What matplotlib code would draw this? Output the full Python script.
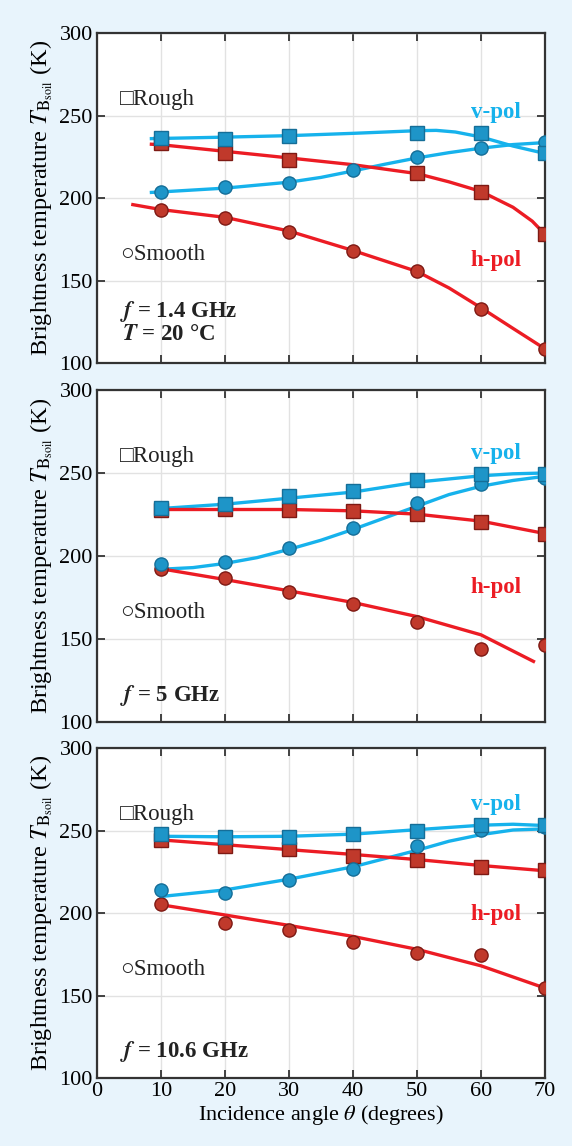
"""
Brightness temperature of rough vs smooth soil at three frequencies,
v-pol (cyan) and h-pol (red), measured points plus model curves.
"""
import matplotlib
matplotlib.use("Agg")
import matplotlib.pyplot as plt
import numpy as np

plt.rcParams["font.family"] = ["Liberation Serif", "DejaVu Serif"]
plt.rcParams["mathtext.fontset"] = "stix"

ANGLES = [10, 20, 30, 40, 50, 60, 70]
FREQ_LABELS = [r"$\mathbfit{f}$ = 1.4 GHz", r"$\mathbfit{f}$ = 5 GHz", r"$\mathbfit{f}$ = 10.6 GHz"]

# measured points (nan = no point)
V_ROUGH = [
    [236.1, 236.0, 237.5, np.nan, 239.6, 239.2, 227.1],
    [228.9, 231.5, 235.9, 238.9, 245.6, 249.6, 249.6],
    [247.6, 246.2, 246.2, 248.0, 250.0, 253.6, 253.6],
]
V_SMOOTH = [
    [203.6, 206.4, 209.4, 216.7, 224.7, 230.5, 233.9],
    [195.0, 196.4, 204.8, 216.9, 231.9, 243.2, 247.2],
    [213.9, 212.4, 219.9, 226.9, 240.6, 250.6, 252.0],
]
H_ROUGH = [
    [233.1, 227.5, 223.1, np.nan, 215.1, 203.4, 178.3],
    [227.5, 228.5, 227.5, 227.1, 225.1, 220.7, 213.1],
    [244.2, 240.6, 238.6, 234.5, 232.1, 227.9, 225.9],
]
H_SMOOTH = [
    [192.8, 188.2, 179.7, 167.9, 155.6, 132.5, 108.6],
    [192.4, 186.7, 178.1, 171.1, 160.2, 144.2, 146.2],
    [205.4, 194.0, 189.8, 182.3, 175.9, 174.7, 154.8],
]

# model curves
VR_CURVE_X = [[8.5, 10, 20, 30, 40, 45, 50, 53, 56, 60, 65, 70],
              [10, 20, 30, 40, 50, 60, 65, 70],
              [10, 20, 30, 40, 50, 60, 65, 70]]
VR_CURVE_Y = [[236, 236.1, 236.9, 237.8, 239.2, 240, 240.8, 241, 240, 237, 231.5, 227],
              [228.6, 231.2, 234.8, 238.5, 244.5, 248.3, 249.5, 250],
              [246.5, 246.2, 246.5, 247.8, 250.5, 253.2, 253.8, 253]]
VS_CURVE_X = [[8.5, 10, 20, 30, 35, 40, 45, 50, 55, 60, 65, 70],
              [10, 15, 20, 25, 30, 35, 40, 45, 50, 55, 60, 65, 70],
              [10, 20, 30, 40, 50, 55, 60, 65, 70]]
VS_CURVE_Y = [[203.4, 203.7, 206, 209.6, 212.5, 216.4, 220.5, 224.3, 227.5, 230.2, 232.4, 233.6],
              [192, 193, 195.5, 199, 204, 209.5, 216, 223, 230, 237, 242, 245.5, 248],
              [210, 214, 220.5, 228, 238, 243.5, 247.5, 250.3, 251]]
HR_CURVE_X = [[8.5, 10, 20, 30, 40, 50, 55, 60, 65, 68, 70],
              [10, 20, 30, 40, 50, 60, 70],
              [10, 20, 30, 40, 50, 60, 70]]
HR_CURVE_Y = [[232.6, 232.3, 228.3, 224.3, 220.2, 214.8, 209.8, 204, 194.4, 186, 178],
              [228, 228, 228, 227.2, 225.2, 221, 213.5],
              [244.3, 241.4, 238.4, 235.5, 232.4, 228.8, 225.6]]
HS_CURVE_X = [[5.6, 10, 20, 30, 40, 50, 55, 60, 65, 70],
              [10, 20, 30, 40, 50, 60, 68.2],
              [10, 20, 30, 40, 50, 60, 70]]
HS_CURVE_Y = [[196, 193, 188.3, 180, 168.2, 155.5, 145.5, 133.5, 121, 108.6],
              [192.3, 185.8, 179, 172, 163.5, 152.5, 136.5],
              [205, 198.8, 192.5, 185.8, 178, 168, 154.5]]

V_LINE, V_FILL, V_EDGE = "#16B2EC", "#1E95C8", "#156E98"
H_LINE, H_FILL, H_EDGE = "#EC1C24", "#C0392B", "#7E1A14"
BG = "#E8F4FC"

fig = plt.figure(figsize=(5.72, 11.46), dpi=100, facecolor=BG)
rects = [(0.1696, 0.6832, 0.7832, 0.288),
         (0.1696, 0.3700, 0.7832, 0.2897),
         (0.1696, 0.0593, 0.7832, 0.288)]
vpol_y = [252, 262, 266]
hpol_y = [162, 181, 199]

for i, rect in enumerate(rects):
    ax = fig.add_axes(rect)
    ax.set_facecolor("white")
    ax.set_xlim(0, 70)
    ax.set_ylim(100, 300)
    ax.set_xticks(range(0, 71, 10))
    ax.set_yticks(range(100, 301, 50))
    ax.grid(True, color="#E2E2E2", linewidth=1.0)
    ax.set_axisbelow(True)
    ax.tick_params(direction="in", top=True, right=True, length=6,
                   width=1.3, color="#333333", labelsize=16, pad=3)
    for sp in ax.spines.values():
        sp.set_linewidth(1.6)
        sp.set_color("#333333")

    ax.plot(VR_CURVE_X[i], VR_CURVE_Y[i], color=V_LINE, lw=2.4, zorder=2)
    ax.plot(VS_CURVE_X[i], VS_CURVE_Y[i], color=V_LINE, lw=2.4, zorder=2)
    ax.plot(HR_CURVE_X[i], HR_CURVE_Y[i], color=H_LINE, lw=2.4, zorder=2)
    ax.plot(HS_CURVE_X[i], HS_CURVE_Y[i], color=H_LINE, lw=2.4, zorder=2)

    ax.plot(ANGLES, H_SMOOTH[i], "o", ms=9.5, mfc=H_FILL, mec=H_EDGE, mew=1, ls="none", zorder=3)
    ax.plot(ANGLES, H_ROUGH[i], "s", ms=9.5, mfc=H_FILL, mec=H_EDGE, mew=1, ls="none", zorder=3)
    ax.plot(ANGLES, V_SMOOTH[i], "o", ms=9.5, mfc=V_FILL, mec=V_EDGE, mew=1, ls="none", zorder=4)
    ax.plot(ANGLES, V_ROUGH[i], "s", ms=9.5, mfc=V_FILL, mec=V_EDGE, mew=1, ls="none", zorder=4)

    ax.text(3.6, 260, "\u25a1Rough", fontsize=16.5, va="center", ha="left",
            family=["Liberation Serif", "DejaVu Sans"], color="#222222")
    ax.text(3.6, 166, "\u25cbSmooth", fontsize=16.5, va="center", ha="left",
            family=["Liberation Serif", "DejaVu Sans"], color="#222222")
    ax.text(66.3, vpol_y[i], "v-pol", fontsize=16.5, fontweight="bold",
            color=V_LINE, ha="right", va="center")
    ax.text(66.3, hpol_y[i], "h-pol", fontsize=16.5, fontweight="bold",
            color=H_LINE, ha="right", va="center")
    ax.text(3.6, 131 if i == 0 else 116, FREQ_LABELS[i], fontsize=16.5,
            fontweight="bold", ha="left", va="center", color="#222222")
    if i == 0:
        ax.text(3.9, 117, r"$\mathbfit{T}$ = 20 °C", fontsize=16.5,
                fontweight="bold", ha="left", va="center", color="#222222")

    ax.set_ylabel(r"Brightness temperature $T_{\mathrm{B}_{\mathrm{soil}}}$ (K)",
                  fontsize=17.5, labelpad=3)
    if i < 2:
        ax.tick_params(labelbottom=False)
    else:
        ax.set_xlabel(r"Incidence angle $\theta$ (degrees)", fontsize=16, labelpad=1)

fig.savefig("out.png", dpi=100, facecolor=BG)
